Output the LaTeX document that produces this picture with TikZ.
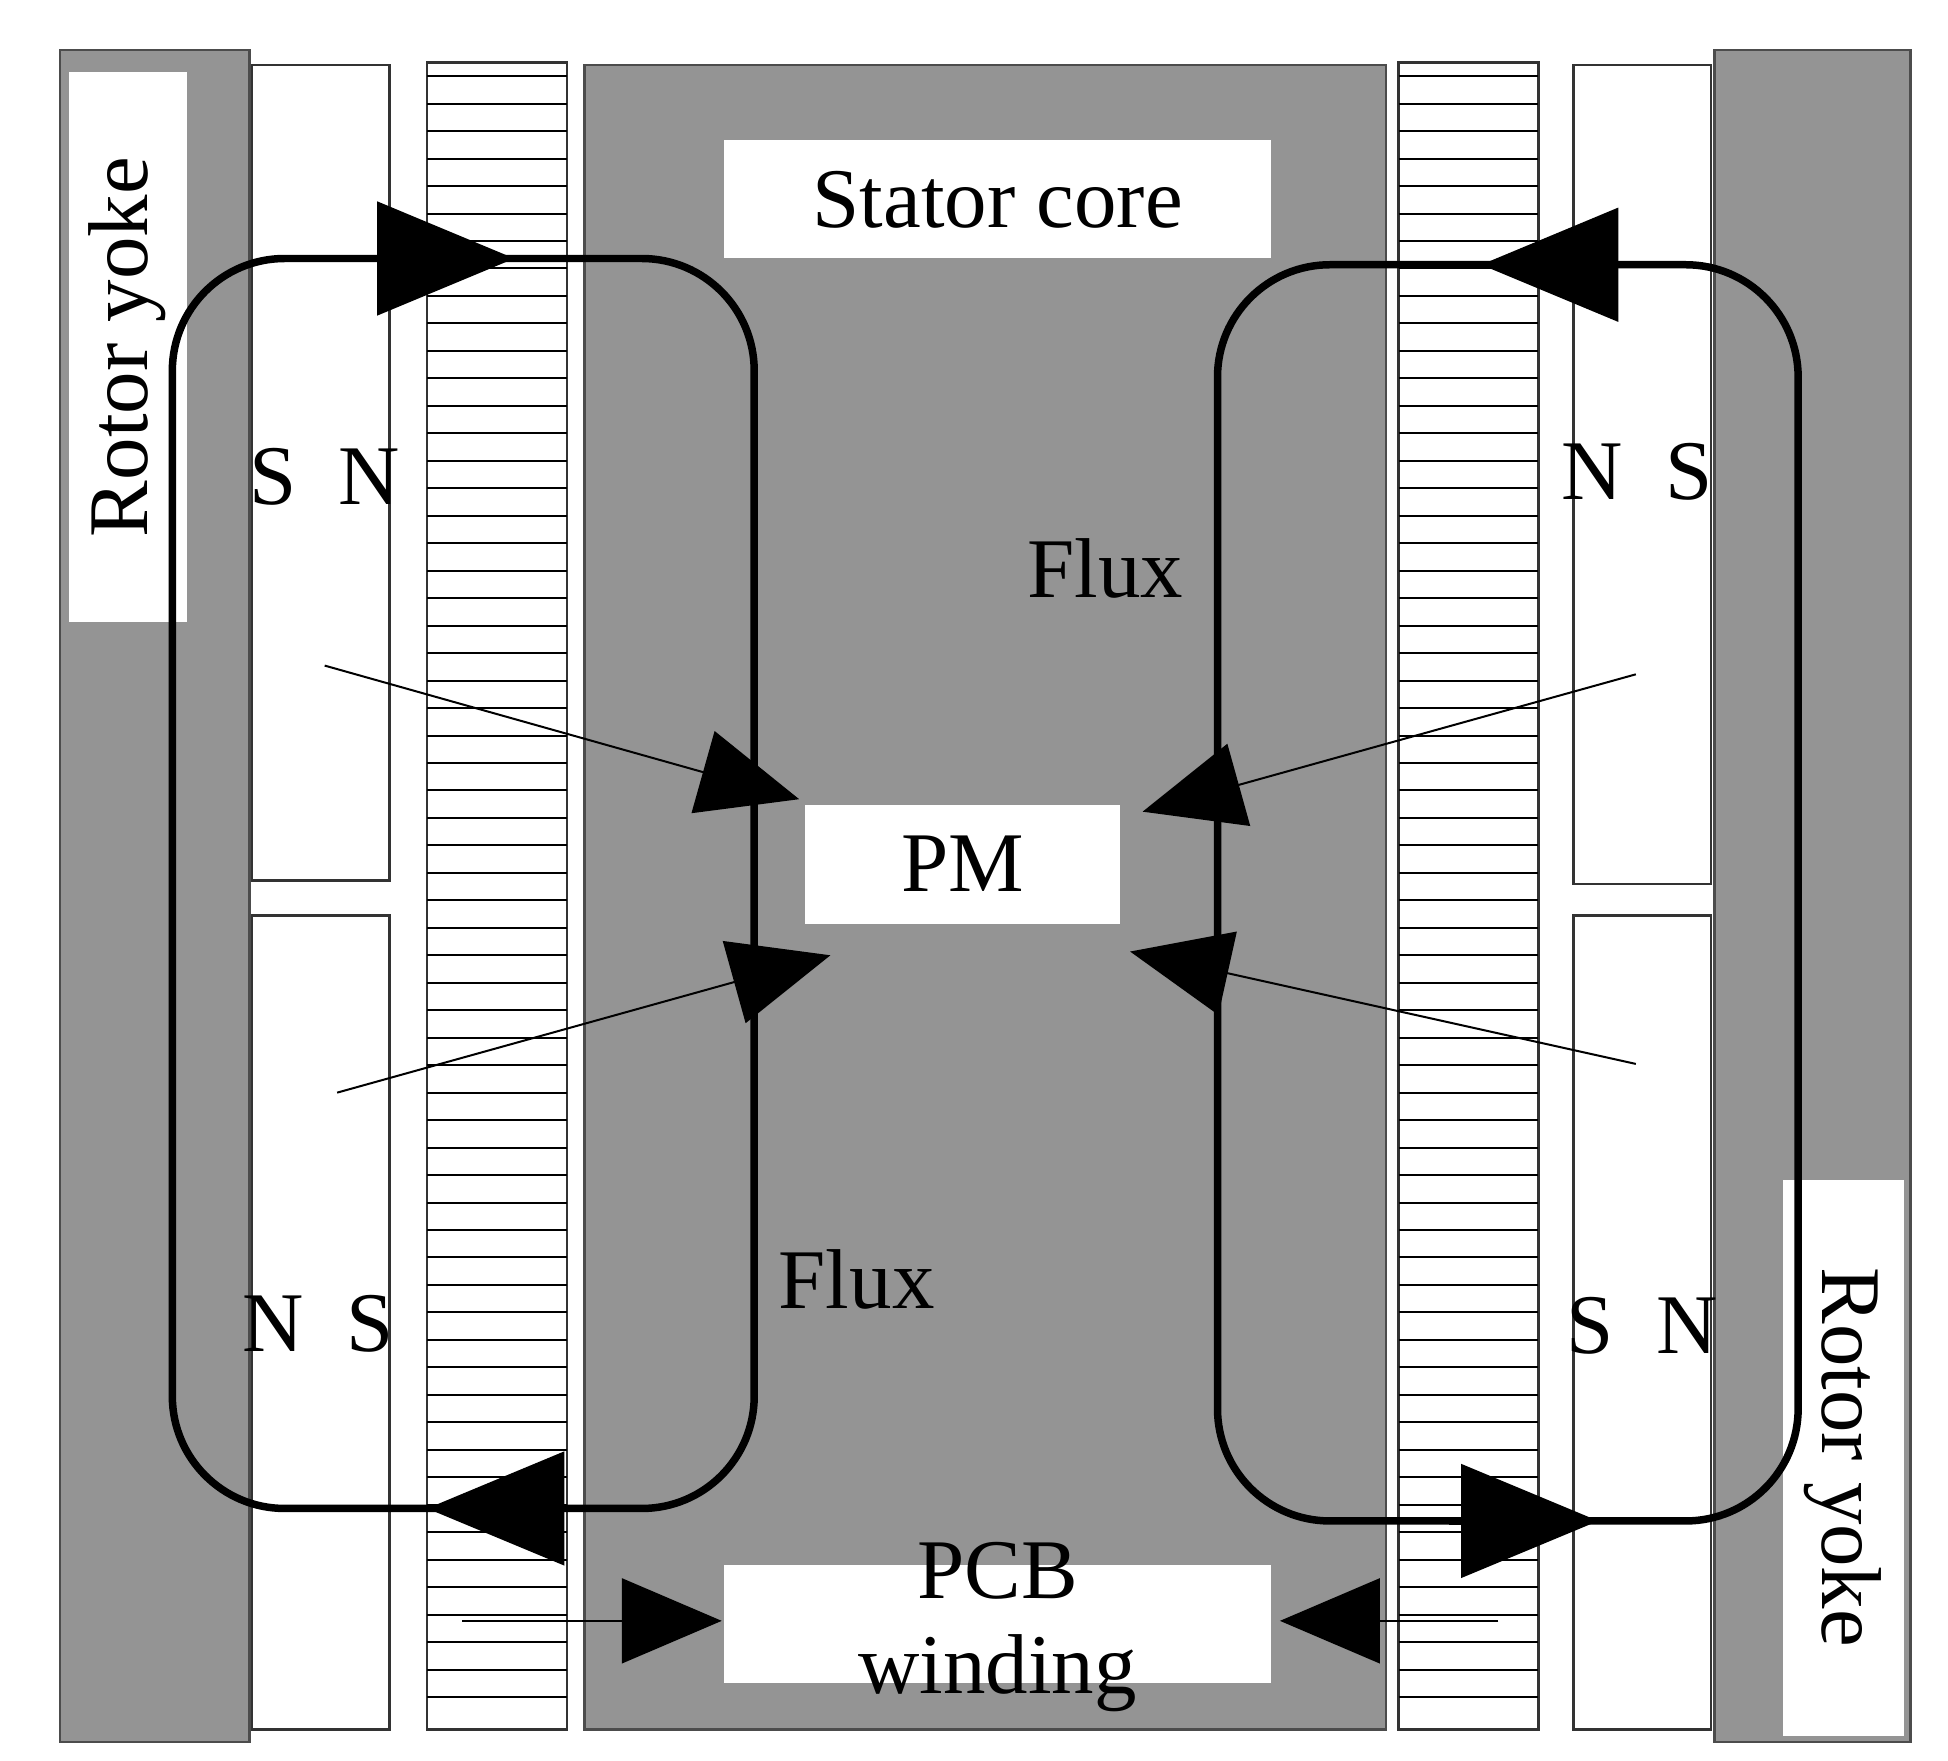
\documentclass[tikz,border=0pt]{standalone}
\usepackage{fontspec}
\setmainfont{Liberation Serif}
\usetikzlibrary{arrows.meta}
\begin{document}
\begin{tikzpicture}[x=0.5pt,y=-0.5pt,
  core/.style={draw=black!70,line width=1pt,fill=black!42},
  wbox/.style={fill=white,draw=none},
  mag/.style={draw=black!80,line width=1pt,fill=white},
  lab/.style={font=\fontsize{34}{40}\selectfont,inner sep=0pt},
  loop/.style={line width=3pt,rounded corners=45pt},
  big/.style={line width=3pt,-{Triangle[length=55pt,width=45pt]}},
  thin/.style={line width=0.8pt,-{Triangle[length=40pt,width=34pt]}}]
\useasboundingbox (0,0) rectangle (1560,1410);
\fill[white] (0,0) rectangle (1560,1410);
% left rotor yoke
\draw[core] (48,40) rectangle (200,1395);
\fill[wbox] (55,58) rectangle (150,498);
\node[lab,rotate=90] (ryl) at (102,278) {Rotor yoke};
% left magnets
\draw[mag] (202,52) rectangle (312,705);
\draw[mag] (202,733) rectangle (312,1385);
% left winding
\draw[mag] (342,50) rectangle (454,1385);
\foreach \y in {61,83,...,1380} \draw[line width=0.8pt] (342,\y) -- (454,\y);
% stator core
\draw[core] (468,52) rectangle (1110,1385);
\fill[wbox] (580,112) rectangle (1018,207);
\node[lab] (sc) at (799,160) {Stator core};
\fill[wbox] (645,645) rectangle (897,740);
\node[lab] (pm) at (771,692) {PM};
\fill[wbox] (580,1253) rectangle (1018,1348);
\node[lab] (pcb) at (799,1258) {PCB};
\node[lab] (wd) at (799,1340) {winding};
% right winding
\draw[mag] (1120,50) rectangle (1232,1385);
\foreach \y in {61,83,...,1380} \draw[line width=0.8pt] (1120,\y) -- (1232,\y);
% right magnets
\draw[mag] (1260,52) rectangle (1370,708);
\draw[mag] (1260,733) rectangle (1370,1385);
% right rotor yoke
\draw[core] (1373,40) rectangle (1530,1395);
\fill[wbox] (1428,945) rectangle (1525,1390);
\node[lab,rotate=-90] (ryr) at (1476,1167) {Rotor yoke};
% pole labels
\node[lab] (p1) at (260,382) {S\hspace{0.5em}N};
\node[lab] (p2) at (255,1060) {N\hspace{0.5em}S};
\node[lab] (p3) at (1311,378) {N\hspace{0.5em}S};
\node[lab] (p4) at (1315,1062) {S\hspace{0.5em}N};
\node[lab] (f1) at (885,455) {Flux};
\node[lab] (f2) at (686,1025) {Flux};
% flux loops
\draw[loop] (138,207) rectangle (604,1208);
\draw[loop] (975,212) rectangle (1440,1218);
\coordinate (a1s) at (298,207); \coordinate (a1e) at (412,207);
\coordinate (a2s) at (460,1208); \coordinate (a2e) at (342,1208);
\coordinate (a3s) at (1307,212); \coordinate (a3e) at (1186,212);
\coordinate (a4s) at (1160,1218); \coordinate (a4e) at (1280,1218);
\draw[big] (a1s) -- (a1e);
\draw[big] (a2s) -- (a2e);
\draw[big] (a3s) -- (a3e);
\draw[big] (a4s) -- (a4e);
% thin arrows toward PM
\coordinate (t1) at (260,533); \coordinate (t2) at (270,875);
\coordinate (t3) at (1310,540); \coordinate (t4) at (1310,852);
\draw[thin] (t1) -- (640,640);
\draw[thin] (t2) -- (665,765);
\draw[thin] (t3) -- (915,650);
\draw[thin] (t4) -- (905,762);
% arrows toward PCB winding
\coordinate (t5) at (370,1298); \coordinate (t6) at (1200,1298);
\draw[thin] (t5) -- (578,1298);
\draw[thin] (t6) -- (1025,1298);
\end{tikzpicture}
\end{document}
